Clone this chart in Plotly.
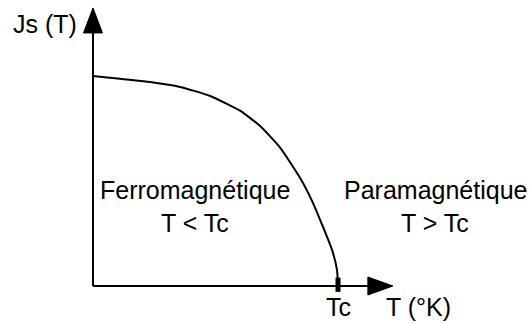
import plotly.graph_objects as go

# courbe d'aimantation spontanée Js(T), normalisée (Tc = 1, Js(0) = 1)
T_vals = [0.0, 0.233, 0.355, 0.478, 0.600, 0.682, 0.763, 0.845, 0.898, 0.939, 0.976, 0.996, 1.0]
Js_vals = [1.0, 0.971, 0.948, 0.905, 0.835, 0.762, 0.660, 0.515, 0.395, 0.281, 0.171, 0.076, 0.0]
Tc = 1.0

zone_ferro = ["Ferromagnétique", "T < Tc"]
zone_para = ["Paramagnétique", "T > Tc"]
x_label = "T (°K)"
y_label = "Js (T)"
tc_label = "Tc"

# axes with arrowheads (data units: 245 px per unit in x, 210 px per unit in y)
x_tip, y_tip = 1.224, 1.324
head_len_x, head_half_x = 25 / 245, 9 / 210
head_len_y, head_half_y = 25 / 210, 9.5 / 245

FONT = dict(family="Liberation Sans, Arial, sans-serif", size=25, color="black")

fig = go.Figure()
fig.add_trace(go.Scatter(x=T_vals, y=Js_vals, mode="lines",
                         line=dict(color="black", width=2, shape="spline", smoothing=0.5),
                         hoverinfo="skip", showlegend=False))

shapes = [
    dict(type="line", x0=0, y0=0, x1=x_tip - head_len_x / 2, y1=0, line=dict(color="black", width=2)),
    dict(type="line", x0=0, y0=0, x1=0, y1=y_tip - head_len_y / 2, line=dict(color="black", width=2)),
    dict(type="path", path=f"M {x_tip},0 L {x_tip - head_len_x},{head_half_x} L {x_tip - head_len_x},{-head_half_x} Z",
         fillcolor="black", line=dict(color="black", width=1)),
    dict(type="path", path=f"M 0,{y_tip} L {-head_half_y},{y_tip - head_len_y} L {head_half_y},{y_tip - head_len_y} Z",
         fillcolor="black", line=dict(color="black", width=1)),
    # repère de Tc
    dict(type="line", x0=Tc, y0=-0.028, x1=Tc, y1=0.04, line=dict(color="black", width=5)),
]

ann = [
    dict(x=0.416, y=0.457, text=zone_ferro[0]),
    dict(x=0.416, y=0.30, text=zone_ferro[1]),
    dict(x=1.396, y=0.457, text=zone_para[0]),
    dict(x=1.396, y=0.30, text=zone_para[1]),
    dict(x=Tc, y=-0.10, text=tc_label),
    dict(x=1.327, y=-0.10, text=x_label),
    dict(x=-0.194, y=1.248, text=y_label),
]
for a in ann:
    a.update(xref="x", yref="y", showarrow=False, font=FONT, xanchor="center", yanchor="middle")

fig.update_layout(
    width=530, height=323,
    margin=dict(l=0, r=0, t=0, b=0),
    paper_bgcolor="white", plot_bgcolor="white",
    xaxis=dict(range=[-93 / 245, 437 / 245], visible=False, fixedrange=True),
    yaxis=dict(range=[-37 / 210, 286 / 210], visible=False, fixedrange=True),
    shapes=shapes, annotations=ann,
)

fig.write_html("out.html", config={"displayModeBar": False},
               post_script="document.body.style.margin='0';")
